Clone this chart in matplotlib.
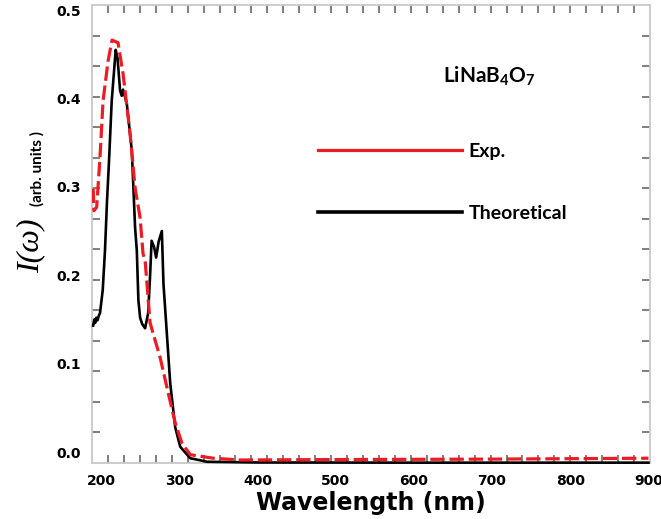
"""
Optical absorption of LiNaB4O7: experiment vs theory
"""

import matplotlib.pyplot as plt
import numpy as np
from matplotlib.lines import Line2D

plt.rcParams['mathtext.fontset'] = 'custom'
plt.rcParams['mathtext.rm'] = 'Lato:bold'
plt.rcParams['mathtext.it'] = 'Lato:bold'

# Theoretical curve (wavelength nm, intensity)
theo_wl = [190, 191.5, 192.5, 194, 195.5, 197.5, 198.7, 202.2, 205.1, 207.7,
           210.3, 213.7, 218.8, 221.2, 224.4, 226.5, 228.2, 233.0, 239.4,
           243.6, 245.8, 247.8, 250.0, 252.6, 256.4, 260.3, 262.8, 264.7,
           267.9, 270.5, 273.7, 277.8, 279.9, 284.2, 288.5, 294.9, 301.3,
           314.1, 335.5, 400, 600, 900]
theo_int = [0.143, 0.150, 0.146, 0.152, 0.149, 0.155, 0.157, 0.183, 0.228,
            0.284, 0.330, 0.397, 0.455, 0.445, 0.409, 0.403, 0.410, 0.394,
            0.341, 0.254, 0.228, 0.172, 0.152, 0.145, 0.140, 0.157, 0.200,
            0.239, 0.232, 0.220, 0.238, 0.250, 0.190, 0.134, 0.078, 0.028,
            0.006, -0.007, -0.011, -0.0118, -0.012, -0.012]

# Experimental curve
exp_wl = [190, 191, 194.5, 198.7, 202.6, 209, 214.1, 221.8, 228.2, 237.2,
          243.6, 250.0, 253.8, 256.4, 262.8, 275.6, 285.9, 294.9, 303.5,
          314.1, 343.6, 378.2, 500, 700, 900]
exp_int = [0.298, 0.273, 0.277, 0.333, 0.397, 0.442, 0.466, 0.463, 0.428,
           0.360, 0.299, 0.265, 0.224, 0.217, 0.146, 0.107, 0.067, 0.033,
           0.010, -0.003, -0.007, -0.009, -0.0085, -0.008, -0.007]

x_major = [200, 300, 400, 500, 600, 700, 800, 900]
y_major = [0.0, 0.1, 0.2, 0.3, 0.4, 0.5]

xlo, xhi = 188.5, 902
ylo, yhi = -0.0124, 0.5057

fig = plt.figure(figsize=(6.61, 5.19), dpi=100)
ax = fig.add_axes([92 / 661, 56 / 519, 558 / 661, 458 / 519])

ax.plot(theo_wl, theo_int, color='black', linewidth=1.9, zorder=3, clip_on=False)
ax.plot(exp_wl, exp_int, color='#ec1c24', linewidth=2.3,
        linestyle=(0, (4.5, 1.5)), zorder=4)

ax.set_xlim(xlo, xhi)
ax.set_ylim(ylo, yhi)

# labelled majors without marks, evenly spaced minor marks on all sides
ax.set_xticks(x_major)
ax.set_yticks(y_major)
ax.set_xticklabels([str(v) for v in x_major], fontweight='bold')
ax.set_yticklabels([f'{v:.1f}' for v in y_major], fontweight='bold')
ax.set_xticks(np.linspace(xlo, xhi, 36)[1:-1], minor=True)
ax.set_yticks(np.linspace(ylo, yhi, 16)[1:-1], minor=True)
ax.tick_params(which='major', length=0, pad=8, labelsize=10)
ax.tick_params(which='minor', direction='in', length=6, width=1.2,
               color='#6a6a6a', top=True, right=True)

for sp in ax.spines.values():
    sp.set_color('#c8c8c8')
    sp.set_linewidth(1.3)

ax.set_xlabel('Wavelength (nm)', fontsize=17, fontweight='bold', labelpad=2)

# y label built from two pieces
fig.text(31 / 661, 1 - 246 / 519, 'I(ω)', rotation=90, ha='center', va='center',
         fontsize=23, family='Liberation Serif', style='italic')
fig.text(37 / 661, 1 - 168 / 519, '(arb. units )', rotation=90, ha='center',
         va='center', fontsize=11, family='Lato', fontweight='bold')

fig.text(489 / 661, 1 - 76 / 519, 'LiNaB$_4$O$_7$', ha='center', va='center',
         fontsize=15, family='Lato', fontweight='bold')

handles = [Line2D([], [], color='#ec1c24', linewidth=2.3),
           Line2D([], [], color='black', linewidth=2.6)]
ax.legend(handles, ['Exp.', 'Theoretical'], loc='upper left',
          bbox_to_anchor=(318 / 661, 1 - 143 / 519), bbox_transform=fig.transFigure,
          frameon=False, borderpad=0, borderaxespad=0, handlelength=7.4,
          handletextpad=0.35, labelspacing=2.3,
          prop={'family': 'Lato', 'weight': 'bold', 'size': 14})

plt.savefig('out.png', dpi=100)
plt.close()
